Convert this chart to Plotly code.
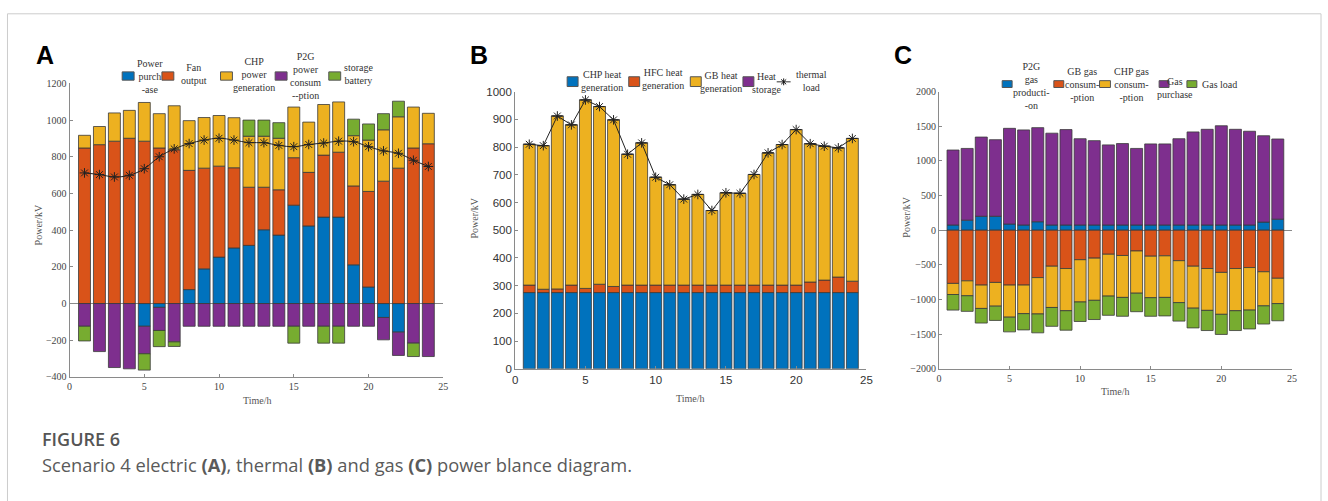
import plotly.graph_objects as go

W, H = 1328, 501
hours = list(range(1, 25))

# ---------------- Panel A: electric balance ----------------
a_purchase = [None, None, None, None, -124, -21, None, 76, 189, 253, 303, 317,
              402, 373, 536, 423, 471, 471, 211, 90, -76, -156, None, None]
a_fan = [848, 866, 885, 901, 885, 848, 838, 650, 549, 496, 437, 317,
         232, 247, 259, 292, 338, 354, 430, 521, 667, 738, 848, 871]
a_chp = [69, 99, 154, 152, 211, 187, 240, 271, 276, 276, 273, 278,
         278, 281, 276, 274, 276, 274, 274, 280, 280, 280, 223, 166]
a_p2g = [-124, -262, -349, -356, -150, -126, -209, -124, -124, -124, -124, -124,
         -124, -124, -124, -124, -124, -124, -124, -124, -122, -127, -216, -289]
a_storage = [-80, None, None, None, -89, -88, -25, None, None, None, None, 88,
             88, 85, -92, None, -92, -92, 90, 88, 88, 85, -73, None]
a_load = [712, 703, 690, 699, 735, 800, 843, 872, 891, 901, 891, 877,
          877, 862, 855, 867, 875, 885, 882, 855, 832, 819, 781, 747]
a_legend = ["Power<br>purch<br>-ase", "Fan<br>output", "CHP<br>power<br>generation",
            "P2G<br>power<br>consum<br>--ption", "storage<br>battery"]

# ---------------- Panel B: thermal balance ----------------
b_chp = [275] * 24
b_hfc = [27, 12, 13, 27, 15, 30, 22, 27, 27, 27, 27, 27,
         27, 27, 27, 27, 27, 27, 27, 27, 38, 45, 56, 41]
b_gb = [508, 518, 624, 578, 680, 641, 601, 472, 513, 389, 362, 310,
        327, 269, 333, 331, 399, 477, 507, 561, 499, 483, 466, 515]
b_storage = [0] * 24
b_load = [810, 805, 912, 880, 970, 946, 898, 774, 815, 691, 664, 612,
          629, 571, 635, 633, 701, 779, 809, 863, 812, 803, 797, 831]
b_legend = ["CHP heat<br>generation", "HFC heat<br>generation", "GB heat<br>generation",
            "Heat<br>storage", "thermal<br>load"]

# ---------------- Panel C: gas balance ----------------
c_p2g = [75, 145, 201, 201, 89, 75, 122, 75, 75, 75, 75, 75,
         75, 75, 75, 75, 75, 75, 75, 75, 75, 75, 117, 159]
c_gb = [-768, -731, -792, -754, -792, -792, -684, -520, -553, -426, -403, -347,
        -365, -300, -375, -370, -440, -520, -553, -609, -553, -539, -600, -694]
c_chp = [-160, -215, -337, -342, -463, -412, -525, -595, -609, -610, -609, -604,
         -605, -609, -599, -600, -605, -605, -604, -605, -609, -614, -492, -365]
c_purchase = [1082, 1035, 1143, 1105, 1381, 1372, 1358, 1325, 1377, 1245, 1217, 1156,
              1175, 1105, 1170, 1170, 1245, 1343, 1381, 1432, 1381, 1353, 1246, 1157]
c_load = [-225, -225, -211, -206, -212, -235, -272, -272, -281, -281, -277, -277,
          -272, -267, -268, -267, -267, -285, -291, -290, -286, -272, -262, -248]
c_legend = ["P2G<br>gas<br>producti-<br>-on", "GB gas<br>consum-<br>-ption",
            "CHP gas<br>consum-<br>-ption", "Gas<br>purchase", "Gas load"]

BLUE, ORANGE, YELLOW, PURPLE, GREEN = "#0072BD", "#D95319", "#EDB120", "#7E2F8E", "#77AC30"
EDGE = dict(color="#3a3a3a", width=0.8)
AXC = "#8a8a8a"
SERIF = "Liberation Serif"
SANS = "Liberation Sans"


def px(x):
    return x / W


def py(y):
    return 1 - y / H


fig = go.Figure()


def bars(y, color, xa, ya, width):
    fig.add_trace(go.Bar(x=hours, y=y, width=width, xaxis=xa, yaxis=ya,
                         marker=dict(color=color, line=EDGE), showlegend=False))


def load_line(y, xa, ya, shape):
    fig.add_trace(go.Scatter(x=hours, y=y, xaxis=xa, yaxis=ya, mode="lines+markers",
                             line=dict(color="#222222", width=1, shape=shape),
                             marker=dict(symbol="asterisk-open", size=8,
                                         line=dict(color="#111111", width=1)),
                             showlegend=False))


# A
for ser, col in zip([a_purchase, a_fan, a_chp, a_p2g, a_storage],
                    [BLUE, ORANGE, YELLOW, PURPLE, GREEN]):
    bars(ser, col, "x", "y", 0.8)
load_line(a_load, "x", "y", "spline")

# B
for ser, col in zip([b_chp, b_hfc, b_gb, b_storage], [BLUE, ORANGE, YELLOW, PURPLE]):
    bars(ser, col, "x2", "y2", 0.85)
load_line(b_load, "x2", "y2", "linear")

# C
for ser, col in zip([c_p2g, c_gb, c_chp, c_purchase, c_load],
                    [BLUE, ORANGE, YELLOW, PURPLE, GREEN]):
    bars(ser, col, "x3", "y3", 0.85)


def xax(dom, anchor, font):
    return dict(domain=dom, anchor=anchor, range=[0, 25], tickvals=[0, 5, 10, 15, 20, 25],
                ticks="inside", ticklen=3, tickcolor=AXC, showline=True, linecolor=AXC,
                linewidth=1, showgrid=False, zeroline=False, tickfont=font, fixedrange=True)


def yax(dom, anchor, rng, dtick, font, zl):
    return dict(domain=dom, anchor=anchor, range=rng, dtick=dtick,
                ticks="inside", ticklen=3, tickcolor=AXC, showline=True, linecolor=AXC,
                linewidth=1, showgrid=False, zeroline=zl, zerolinecolor=AXC,
                zerolinewidth=1, tickfont=font, fixedrange=True)


fa = dict(family=SERIF, size=10, color="#444444")
fb = dict(family=SANS, size=11.5, color="#333333")

fig.update_layout(
    width=W, height=H, margin=dict(l=0, r=0, t=0, b=0),
    paper_bgcolor="white", plot_bgcolor="white", barmode="relative",
    xaxis=xax([px(67), px(443.3)], "y", fa),
    yaxis=yax([py(380), py(79.3)], "x", [-400, 1200], 200, fa, True),
    xaxis2=xax([px(515.7), px(869.3)], "y2", fb),
    yaxis2=yax([py(371.7), py(87.7)], "x2", [0, 1000], 100, fb, False),
    xaxis3=xax([px(942.3), px(1297.7)], "y3", fa),
    yaxis3=yax([py(371.7), py(87.7)], "x3", [-2000, 2000], 500, fa, True),
)

ann = []
shapes = []


def text(x, y, t, size, color="#333333", family=SERIF, angle=0, xanchor="center", **kw):
    ann.append(dict(x=px(x), y=py(y), xref="paper", yref="paper", text=t, showarrow=False,
                    xanchor=xanchor, yanchor="middle", align="center", textangle=angle,
                    font=dict(family=family, size=size, color=color, **kw)))


def key(x0, x1, y0, y1, color):
    shapes.append(dict(type="rect", xref="paper", yref="paper", x0=px(x0), x1=px(x1),
                       y0=py(y1), y1=py(y0), fillcolor=color,
                       line=dict(color="#555555", width=1)))


# panel letters
text(42, 50, "<b>A</b>", 25, "#000000", SANS)
text(479, 50, "<b>B</b>", 25, "#000000", SANS)
text(906, 50, "<b>C</b>", 25, "#000000", SANS)

# axis titles
for xx, yy in [(36, 224), (475, 217), (910, 216)]:
    text(xx, yy, "Power/kV", 10, "#555555", SERIF, angle=-90)
for xx, yy in [(256, 404), (692, 402), (1120, 395)]:
    text(xx, yy, "Time/h", 10, "#555555", SERIF)

# legend A
for (k0, k1), (tx, ty), lab, col in zip(
        [(120, 132), (160, 172), (219, 231), (274, 286), (328, 340)],
        [(148, 72), (192, 70), (253, 70), (305, 72), (358, 70)],
        a_legend, [BLUE, ORANGE, YELLOW, PURPLE, GREEN]):
    key(k0, k1, 67.5, 76, col)
    text(tx, ty, lab, 10, "#333333")

# legend B
for (k0, k1), (tx, ty), lab, col in zip(
        [(568, 579), (630, 641), (692, 703), (745, 756)],
        [(603, 77), (665, 75), (723, 78), (769, 79)],
        b_legend[:4], [BLUE, ORANGE, YELLOW, PURPLE]):
    key(k0, k1, 72.5, 82.5, col)
    text(tx, ty, lab, 10, "#333333")
text(814, 77, b_legend[4], 10, "#333333")
cx, cy, r = 786, 77.7, 3.5
shapes.append(dict(type="line", xref="paper", yref="paper", x0=px(779), x1=px(793),
                   y0=py(cy), y1=py(cy), line=dict(color="#333333", width=1)))
d = r * 0.72
star = (f"M{px(cx)},{py(cy - r)} L{px(cx)},{py(cy + r)} "
        f"M{px(cx - d)},{py(cy - d)} L{px(cx + d)},{py(cy + d)} "
        f"M{px(cx - d)},{py(cy + d)} L{px(cx + d)},{py(cy - d)}")
shapes.append(dict(type="path", xref="paper", yref="paper", path=star,
                   line=dict(color="#111111", width=1)))

# legend C
for (k0, k1), (tx, ty), lab, col in zip(
        [(1006, 1016), (1058, 1068), (1104, 1115), (1164, 1174)],
        [(1036, 82), (1086, 80), (1136, 80), (1180, 84)],
        c_legend[:4], [BLUE, ORANGE, YELLOW, PURPLE]):
    key(k0, k1, 76.5, 83.5, col)
    text(tx, ty, lab, 10, "#333333")
key(1192, 1202, 76.5, 83.5, GREEN)
text(1205, 80.5, c_legend[4], 10, "#333333", xanchor="left")

# caption
text(37, 444, "FIGURE 6", 18, "#555555", "Open Sans", xanchor="left", weight=600)
text(37, 470, "Scenario 4 electric <b>(A)</b>, thermal <b>(B)</b> and gas <b>(C)</b> power blance diagram.",
     18.3, "#5a5a5a", "Open Sans", xanchor="left")

# card border
shapes.append(dict(type="rect", xref="paper", yref="paper", x0=px(4.5), x1=px(1327),
                   y0=py(540), y1=py(8), line=dict(color="#cccccc", width=1),
                   fillcolor="rgba(0,0,0,0)", layer="below"))

fig.update_layout(annotations=ann, shapes=shapes)
fig.write_html("out.html")
